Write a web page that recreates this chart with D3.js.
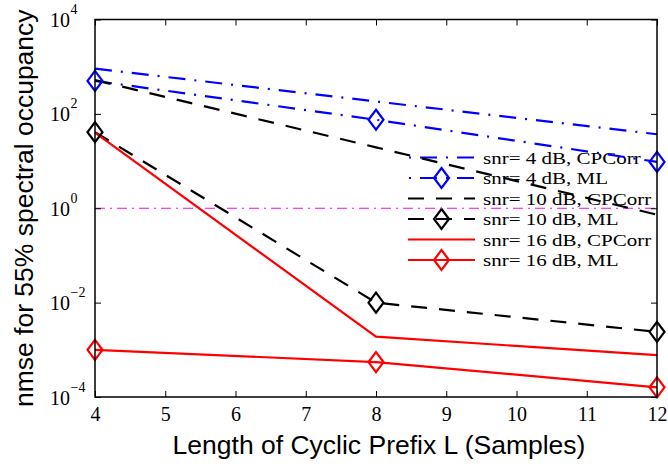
<!DOCTYPE html>
<html><head><meta charset="utf-8">
<script src="https://cdn.jsdelivr.net/npm/d3@7"></script>
<style>body{margin:0;background:#fff}svg{display:block}</style>
</head><body>
<svg id="c" width="668" height="467"></svg>
<script>
const xValues = [4, 8, 12];
const xTicks = [4, 5, 6, 7, 8, 9, 10, 11, 12];
const yTicks = [1e-4, 1e-2, 1e0, 1e2, 1e4];
const yTickExp = ["\u22124", "\u22122", "0", "2", "4"];
const snr4CPCorr = [910, 183, 37];
const snr4ML = [500, 75, 9.6];
const snr10CPCorr = [520, 19.5, 0.73];
const snr10ML = [41, 0.0100, 0.0024];
const snr16CPCorr = [40, 0.0019, 0.00077];
const snr16ML = [0.00100, 0.00055, 0.00016];
const threshold = 1;
const legendLabels = ["snr= 4 dB, CPCorr","snr= 4 dB, ML","snr= 10 dB, CPCorr","snr= 10 dB, ML","snr= 16 dB, CPCorr","snr= 16 dB, ML"];
const xLabel = "Length of Cyclic Prefix L (Samples)";
const yLabel = "nmse for 55% spectral occupancy";

const series = [
  {v: snr4CPCorr, color:"#0000ff", dash:"17,9,2,9", marker:false},
  {v: snr4ML, color:"#0000ff", dash:"17,9,2,9", marker:true},
  {v: snr10CPCorr, color:"#000000", dash:"16,12", marker:false},
  {v: snr10ML, color:"#000000", dash:"16,12", marker:true},
  {v: snr16CPCorr, color:"#ff0000", dash:null, marker:false},
  {v: snr16ML, color:"#ff0000", dash:null, marker:true}
];

const svg = d3.select("#c");
const L = 95, R = 657, T = 19.5, B = 397;
const x = d3.scaleLinear().domain([4, 12]).range([L, R]);
const y = d3.scaleLog().domain([1e-4, 1e4]).range([B, T]);

const serif = "'Liberation Serif','Times New Roman',serif";
const sans = "'Liberation Sans',Arial,Helvetica,sans-serif";

function diamond(g, cx, cy, color){
  g.append("path")
   .attr("d", `M${cx},${cy-10}L${cx+7.5},${cy}L${cx},${cy+10}L${cx-7.5},${cy}Z`)
   .attr("fill","none").attr("stroke",color).attr("stroke-width",2.2);
}

const lg = svg.append("g");
const lx0 = 408, lx1 = 475, ltx = 483, ly0 = 157.5, ldy = 20.5;
const legFont = 17.5, legStretch = 21 / 17.5;
series.forEach((s,i)=>{
  const yy = ly0 + i*ldy;
  const ln = lg.append("line").attr("x1",lx0).attr("x2",lx1).attr("y1",yy).attr("y2",yy)
    .attr("stroke",s.color).attr("stroke-width",2.2);
  if (s.dash) ln.attr("stroke-dasharray", s.dash).attr("stroke-dashoffset", i<2 ? -12 : 0);
  if (s.marker) diamond(lg, (lx0+lx1)/2, yy, s.color);
  const t = lg.append("text").attr("x",ltx).attr("y",yy+6.2).attr("font-family",serif)
    .attr("font-size",legFont).attr("fill","#000").text(legendLabels[i]);
  const w = t.node().getComputedTextLength();
  t.attr("textLength", w*legStretch).attr("lengthAdjust","spacingAndGlyphs");
});

const plotG = svg.append("g");
plotG.append("line").attr("x1",x(4)).attr("x2",x(12)).attr("y1",y(threshold)).attr("y2",y(threshold))
  .attr("stroke","#ff00ff").attr("stroke-width",1).attr("stroke-dasharray","10,5,2,5");

const line = d3.line().x((d,i)=>x(xValues[i])).y(d=>y(d));
series.forEach(s=>{
  const p = plotG.append("path").datum(s.v).attr("d",line).attr("fill","none")
    .attr("stroke",s.color).attr("stroke-width",2.2).attr("stroke-linejoin","miter");
  if (s.dash) p.attr("stroke-dasharray",s.dash);
});
series.forEach(s=>{
  if (s.marker) s.v.forEach((d,i)=>diamond(plotG, x(xValues[i]), y(d), s.color));
});

const ax = svg.append("g");
const axB = ax.append("g").attr("transform",`translate(0,${B})`)
  .call(d3.axisBottom(x).tickValues(xTicks).tickSizeInner(-6).tickSizeOuter(0).tickPadding(10).tickFormat(d3.format("d")));
ax.append("g").attr("transform",`translate(0,${T})`)
  .call(d3.axisTop(x).tickValues(xTicks).tickSizeInner(-6).tickSizeOuter(0).tickFormat(""));
ax.append("g").attr("transform",`translate(${L},0)`)
  .call(d3.axisLeft(y).tickValues(yTicks).tickSizeInner(-6).tickSizeOuter(0).tickFormat(""));
ax.append("g").attr("transform",`translate(${R},0)`)
  .call(d3.axisRight(y).tickValues(yTicks).tickSizeInner(-6).tickSizeOuter(0).tickFormat(""));
ax.selectAll(".domain").remove();
ax.selectAll(".tick line").attr("stroke","#000").attr("stroke-width",1);
axB.selectAll(".tick text").attr("font-family",serif).attr("font-size",20).attr("fill","#000");
ax.append("rect").attr("x",L).attr("y",T).attr("width",R-L).attr("height",B-T)
  .attr("fill","none").attr("stroke","#000").attr("stroke-width",1.5);

yTicks.forEach((t,i)=>{
  const yy = y(t);
  svg.append("text").attr("x",70).attr("y",yy+7.5).attr("text-anchor","end")
    .attr("font-family",serif).attr("font-size",20).attr("fill","#000").text("10");
  svg.append("text").attr("x",70.5).attr("y",yy-5.5).attr("text-anchor","start")
    .attr("font-family",serif).attr("font-size",14).attr("fill","#000").text(yTickExp[i]);
});

svg.append("text").attr("x",(L+R)/2+3).attr("y",454).attr("text-anchor","middle")
  .attr("font-family",sans).attr("font-size",26.5).attr("fill","#000").text(xLabel);
svg.append("text").attr("transform",`translate(33,${(T+B)/2}) rotate(-90)`).attr("text-anchor","middle")
  .attr("font-family",sans).attr("font-size",26.5).attr("fill","#000").text(yLabel);
</script>
</body></html>
